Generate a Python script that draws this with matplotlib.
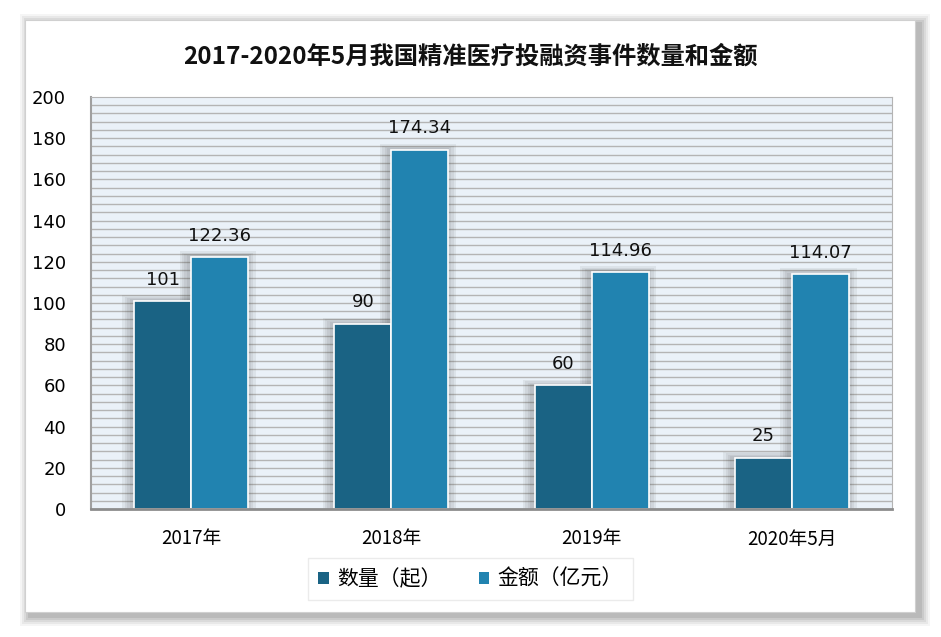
import matplotlib
matplotlib.use('Agg')
import matplotlib.pyplot as plt
import numpy as np
from matplotlib.patches import Rectangle, Patch

plt.rcParams['font.family'] = ['Noto Sans CJK SC', 'DejaVu Sans']

categories = ['2017年', '2018年', '2019年', '2020年5月']
counts = [101, 90, 60, 25]
amounts = [122.36, 174.34, 114.96, 114.07]
count_labels = ['101', '90', '60', '25']
amount_labels = ['122.36', '174.34', '114.96', '114.07']
series_names = ['数量（起）', '金额（亿元）']

dark = '#1a6384'
light = '#2183b0'

W, H = 941, 637
fig = plt.figure(figsize=(W / 100, H / 100), dpi=100)

# outer card with soft shadow
for i, a in enumerate([0.04, 0.05, 0.06, 0.07, 0.08]):
    d = (5 - i) * 2
    fig.patches.append(Rectangle(((25 - d + 5) / W, 1 - (612 + d + 4) / H),
                                 (890 + 2 * d) / W, (592 + 2 * d) / H,
                                 transform=fig.transFigure, color='#000000',
                                 alpha=a, zorder=0, lw=0))
fig.patches.append(Rectangle((25 / W, 1 - 612 / H), 890 / W, 592 / H,
                             transform=fig.transFigure, facecolor='white',
                             edgecolor='#d0d0d0', lw=0.8, zorder=1))

ax = fig.add_axes([91 / W, 1 - 509 / H, 801 / W, 412 / H])
ax.set_zorder(2)
ax.set_facecolor('#eaf1f8')

x = np.arange(len(categories))
w = 0.285

# grid lines every 4
for yv in np.arange(4, 200, 4):
    ax.axhline(yv, color='#b4b4b4', lw=1.0, zorder=0.5)

# shadows behind bars
for vals, off in [(counts, -w / 2), (amounts, w / 2)]:
    for k in range(4):
        s = 0.012 * (k + 1)
        ax.bar(x + off - 0.01, np.array(vals) + 0.7 * (k + 1), width=w + 2 * s,
               color='#444444', alpha=0.08, lw=0, zorder=1)

ax.bar(x - w / 2, counts, width=w, color=dark, edgecolor='white', lw=1.2, zorder=2)
ax.bar(x + w / 2, amounts, width=w, color=light, edgecolor='white', lw=1.2, zorder=2)

for xi, v, t in zip(x, counts, count_labels):
    ax.text(xi - w / 2, v + 6, t, ha='center', va='bottom', fontsize=13,
            color='#111111', family=['DejaVu Sans'])
for xi, v, t in zip(x, amounts, amount_labels):
    ax.text(xi + w / 2, v + 6, t, ha='center', va='bottom', fontsize=13,
            color='#111111', family=['DejaVu Sans'])

ax.set_xlim(-0.5, 3.5)
ax.set_ylim(0, 200)
ax.set_yticks(np.arange(0, 201, 20))
ax.set_xticks(x)
ax.set_xticklabels(categories, fontsize=13.5)
ax.tick_params(axis='y', length=0, labelsize=13, pad=18)
ax.tick_params(axis='x', length=0, labelsize=13.5, pad=14)
for lab in ax.get_yticklabels():
    lab.set_family(['DejaVu Sans'])
for side in ['top', 'right']:
    ax.spines[side].set_color('#b4b4b4')
ax.spines['left'].set_color('#a0a0a0')
ax.spines['left'].set_linewidth(1.5)
ax.spines['bottom'].set_color('#8c8c8c')
ax.spines['bottom'].set_linewidth(2)

fig.text(0.5, 1 - 57 / H, '2017-2020年5月我国精准医疗投融资事件数量和金额',
         ha='center', va='center', fontsize=17.5, fontweight='bold', color='#111111')

# legend
handles = [Patch(facecolor=dark, label=series_names[0]),
           Patch(facecolor=light, label=series_names[1])]
leg = fig.legend(handles=handles, loc='center', bbox_to_anchor=(0.5, 1 - 579 / H),
                 ncol=2, fontsize=15, frameon=True, handlelength=0.5, handleheight=0.5,
                 columnspacing=1.8, handletextpad=0.4, borderpad=0.2,
                 borderaxespad=0)
leg.get_frame().set_edgecolor('#e6e6e6')
leg.get_frame().set_boxstyle('square')

fig.savefig('out.png', dpi=100)
